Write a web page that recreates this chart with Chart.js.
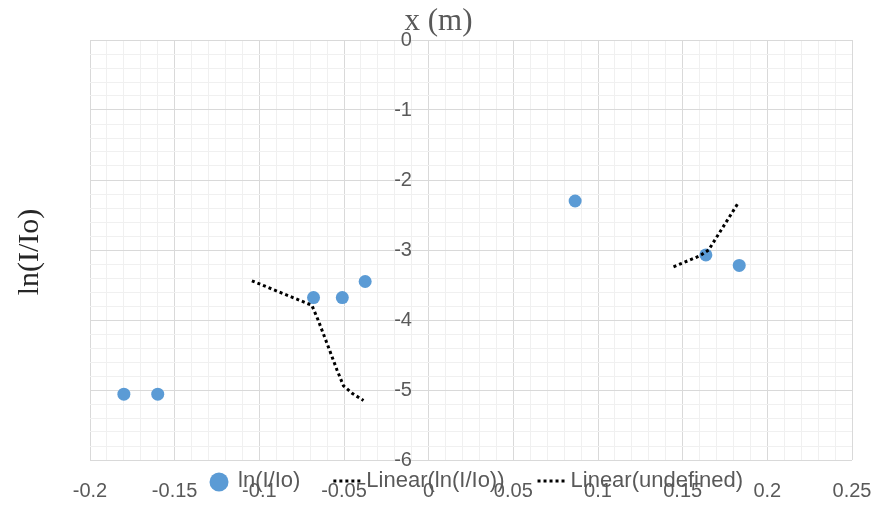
<!DOCTYPE html>
<html>
<head>
<meta charset="utf-8">
<script src="https://cdn.jsdelivr.net/npm/chart.js@4"></script>
<style>
  html, body { margin: 0; padding: 0; background: #fff; }
  #wrap { width: 877px; height: 506px; }
</style>
</head>
<body>
<div id="wrap"><canvas id="chart"></canvas></div>
<script>
// measured points
const xValues = [-0.180, -0.160, -0.068, -0.051, -0.0375, 0.0865, 0.1637, 0.1834];
const yValues = [-5.06, -5.06, -3.68, -3.68, -3.45, -2.30, -3.07, -3.22];

// dotted trend lines, as drawn in the picture
const trend1X = [-0.1044, -0.069, -0.0653, -0.0601, -0.0542, -0.0503, -0.045, -0.0385];
const trend1Y = [-3.44, -3.79, -4.0, -4.33, -4.71, -4.94, -5.05, -5.15];
const trend2X = [0.1446, 0.1604, 0.1653, 0.183];
const trend2Y = [-3.24, -3.08, -3.0, -2.32];

const seriesLabels = ['ln(I/Io)', 'Linear(ln(I/Io))', 'Linear(undefined)'];
const xTitle = 'x (m)';
const yTitle = 'ln(I/Io)';

const xMin = -0.2, xMax = 0.25, xMinor = 0.01, xMajor = 0.05;
const yMin = -6, yMax = 0, yMinor = 0.2, yMajor = 1;

const blue = '#5B9BD5';
const gray = '#595959';
const sansFont = '"Liberation Sans", Arial, sans-serif';
const serifFont = '"Liberation Serif", "DejaVu Serif", serif';

const toPoints = (xs, ys) => xs.map((x, i) => ({ x, y: ys[i] }));
const isMajor = (v, step) => Math.abs(v / step - Math.round(v / step)) < 1e-6;

// titles + legend drawn over the bottom ticks (like the original)
const extras = {
    id: 'extras',
    afterDraw(chart) {
        const ctx = chart.ctx;
        const area = chart.chartArea;
        ctx.save();

        ctx.textAlign = 'center';
        ctx.textBaseline = 'middle';
        ctx.fillStyle = gray;
        ctx.font = '31px ' + serifFont;
        ctx.fillText(xTitle, chart.width / 2, 22);

        ctx.fillStyle = '#262626';
        ctx.font = '30px ' + serifFont;
        ctx.translate(30, (area.top + area.bottom) / 2 + 2);
        ctx.rotate(-Math.PI / 2);
        ctx.fillText(yTitle, 0, 0);
        ctx.setTransform(1, 0, 0, 1, 0, 0);

        ctx.font = '22px ' + sansFont;
        const symW = 28, gap = 5, spacing = 33;
        const widths = seriesLabels.map(t => ctx.measureText(t).width);
        const total = widths.reduce((a, b) => a + b, 0) + 3 * (symW + gap) + 2 * spacing;
        let x = (area.left + area.right) / 2 - total / 2 + 3;
        const y = 481;
        ctx.textAlign = 'left';
        seriesLabels.forEach((t, i) => {
            if (i === 0) {
                ctx.fillStyle = blue;
                ctx.beginPath();
                ctx.arc(x + symW / 2, y + 1, 9.5, 0, Math.PI * 2);
                ctx.fill();
            } else {
                ctx.strokeStyle = '#000';
                ctx.lineWidth = 3;
                ctx.setLineDash([3, 3]);
                ctx.beginPath();
                ctx.moveTo(x, y);
                ctx.lineTo(x + symW, y);
                ctx.stroke();
                ctx.setLineDash([]);
            }
            x += symW + gap;
            ctx.fillStyle = gray;
            ctx.fillText(t, x, y);
            x += widths[i] + spacing;
        });
        ctx.restore();
    }
};

const ctx = document.getElementById('chart').getContext('2d');
new Chart(ctx, {
    type: 'scatter',
    data: {
        datasets: [
            {
                label: seriesLabels[0],
                data: toPoints(xValues, yValues),
                backgroundColor: blue,
                borderWidth: 0,
                pointRadius: 6.5,
                order: 2
            },
            {
                label: seriesLabels[1],
                data: toPoints(trend1X, trend1Y),
                showLine: true,
                borderColor: '#000',
                borderWidth: 3,
                borderDash: [3, 3],
                pointRadius: 0,
                order: 1
            },
            {
                label: seriesLabels[2],
                data: toPoints(trend2X, trend2Y),
                showLine: true,
                borderColor: '#000',
                borderWidth: 3,
                borderDash: [3, 3],
                pointRadius: 0,
                order: 1
            }
        ]
    },
    options: {
        responsive: true,
        maintainAspectRatio: false,
        animation: false,
        layout: { padding: { left: 90, right: 25, top: 40, bottom: 0 } },
        plugins: {
            legend: { display: false },
            tooltip: { enabled: false },
            title: { display: false }
        },
        scales: {
            x: {
                type: 'linear',
                min: xMin,
                max: xMax,
                position: 'bottom',
                border: { display: false },
                grid: {
                    drawTicks: false,
                    color: c => isMajor(c.tick.value, xMajor) ? '#d9d9d9' : '#f0f0f0'
                },
                ticks: {
                    stepSize: xMinor,
                    autoSkip: false,
                    maxRotation: 0,
                    padding: 19,
                    color: gray,
                    font: { family: sansFont, size: 20 },
                    callback: v => isMajor(v, xMajor) ? String(Math.round(v * 100) / 100) : ''
                },
                afterFit: s => {
                    s.height = 46;
                    s.paddingLeft = 0;
                    s.paddingRight = 0;
                }
            },
            y: {
                type: 'linear',
                min: yMin,
                max: yMax,
                position: { x: 0 },
                border: { display: false },
                grid: {
                    drawTicks: false,
                    color: c => isMajor(c.tick.value, yMajor) ? '#d9d9d9' : '#f0f0f0'
                },
                ticks: {
                    stepSize: yMinor,
                    autoSkip: false,
                    color: gray,
                    font: { family: sansFont, size: 20 },
                    // labels sit right against the x=0 line, so pad them with spaces
                    callback: v => isMajor(v, yMajor) ? String(Math.round(v)) + '   ' : ''
                }
            }
        }
    },
    plugins: [extras]
});
</script>
</body>
</html>
